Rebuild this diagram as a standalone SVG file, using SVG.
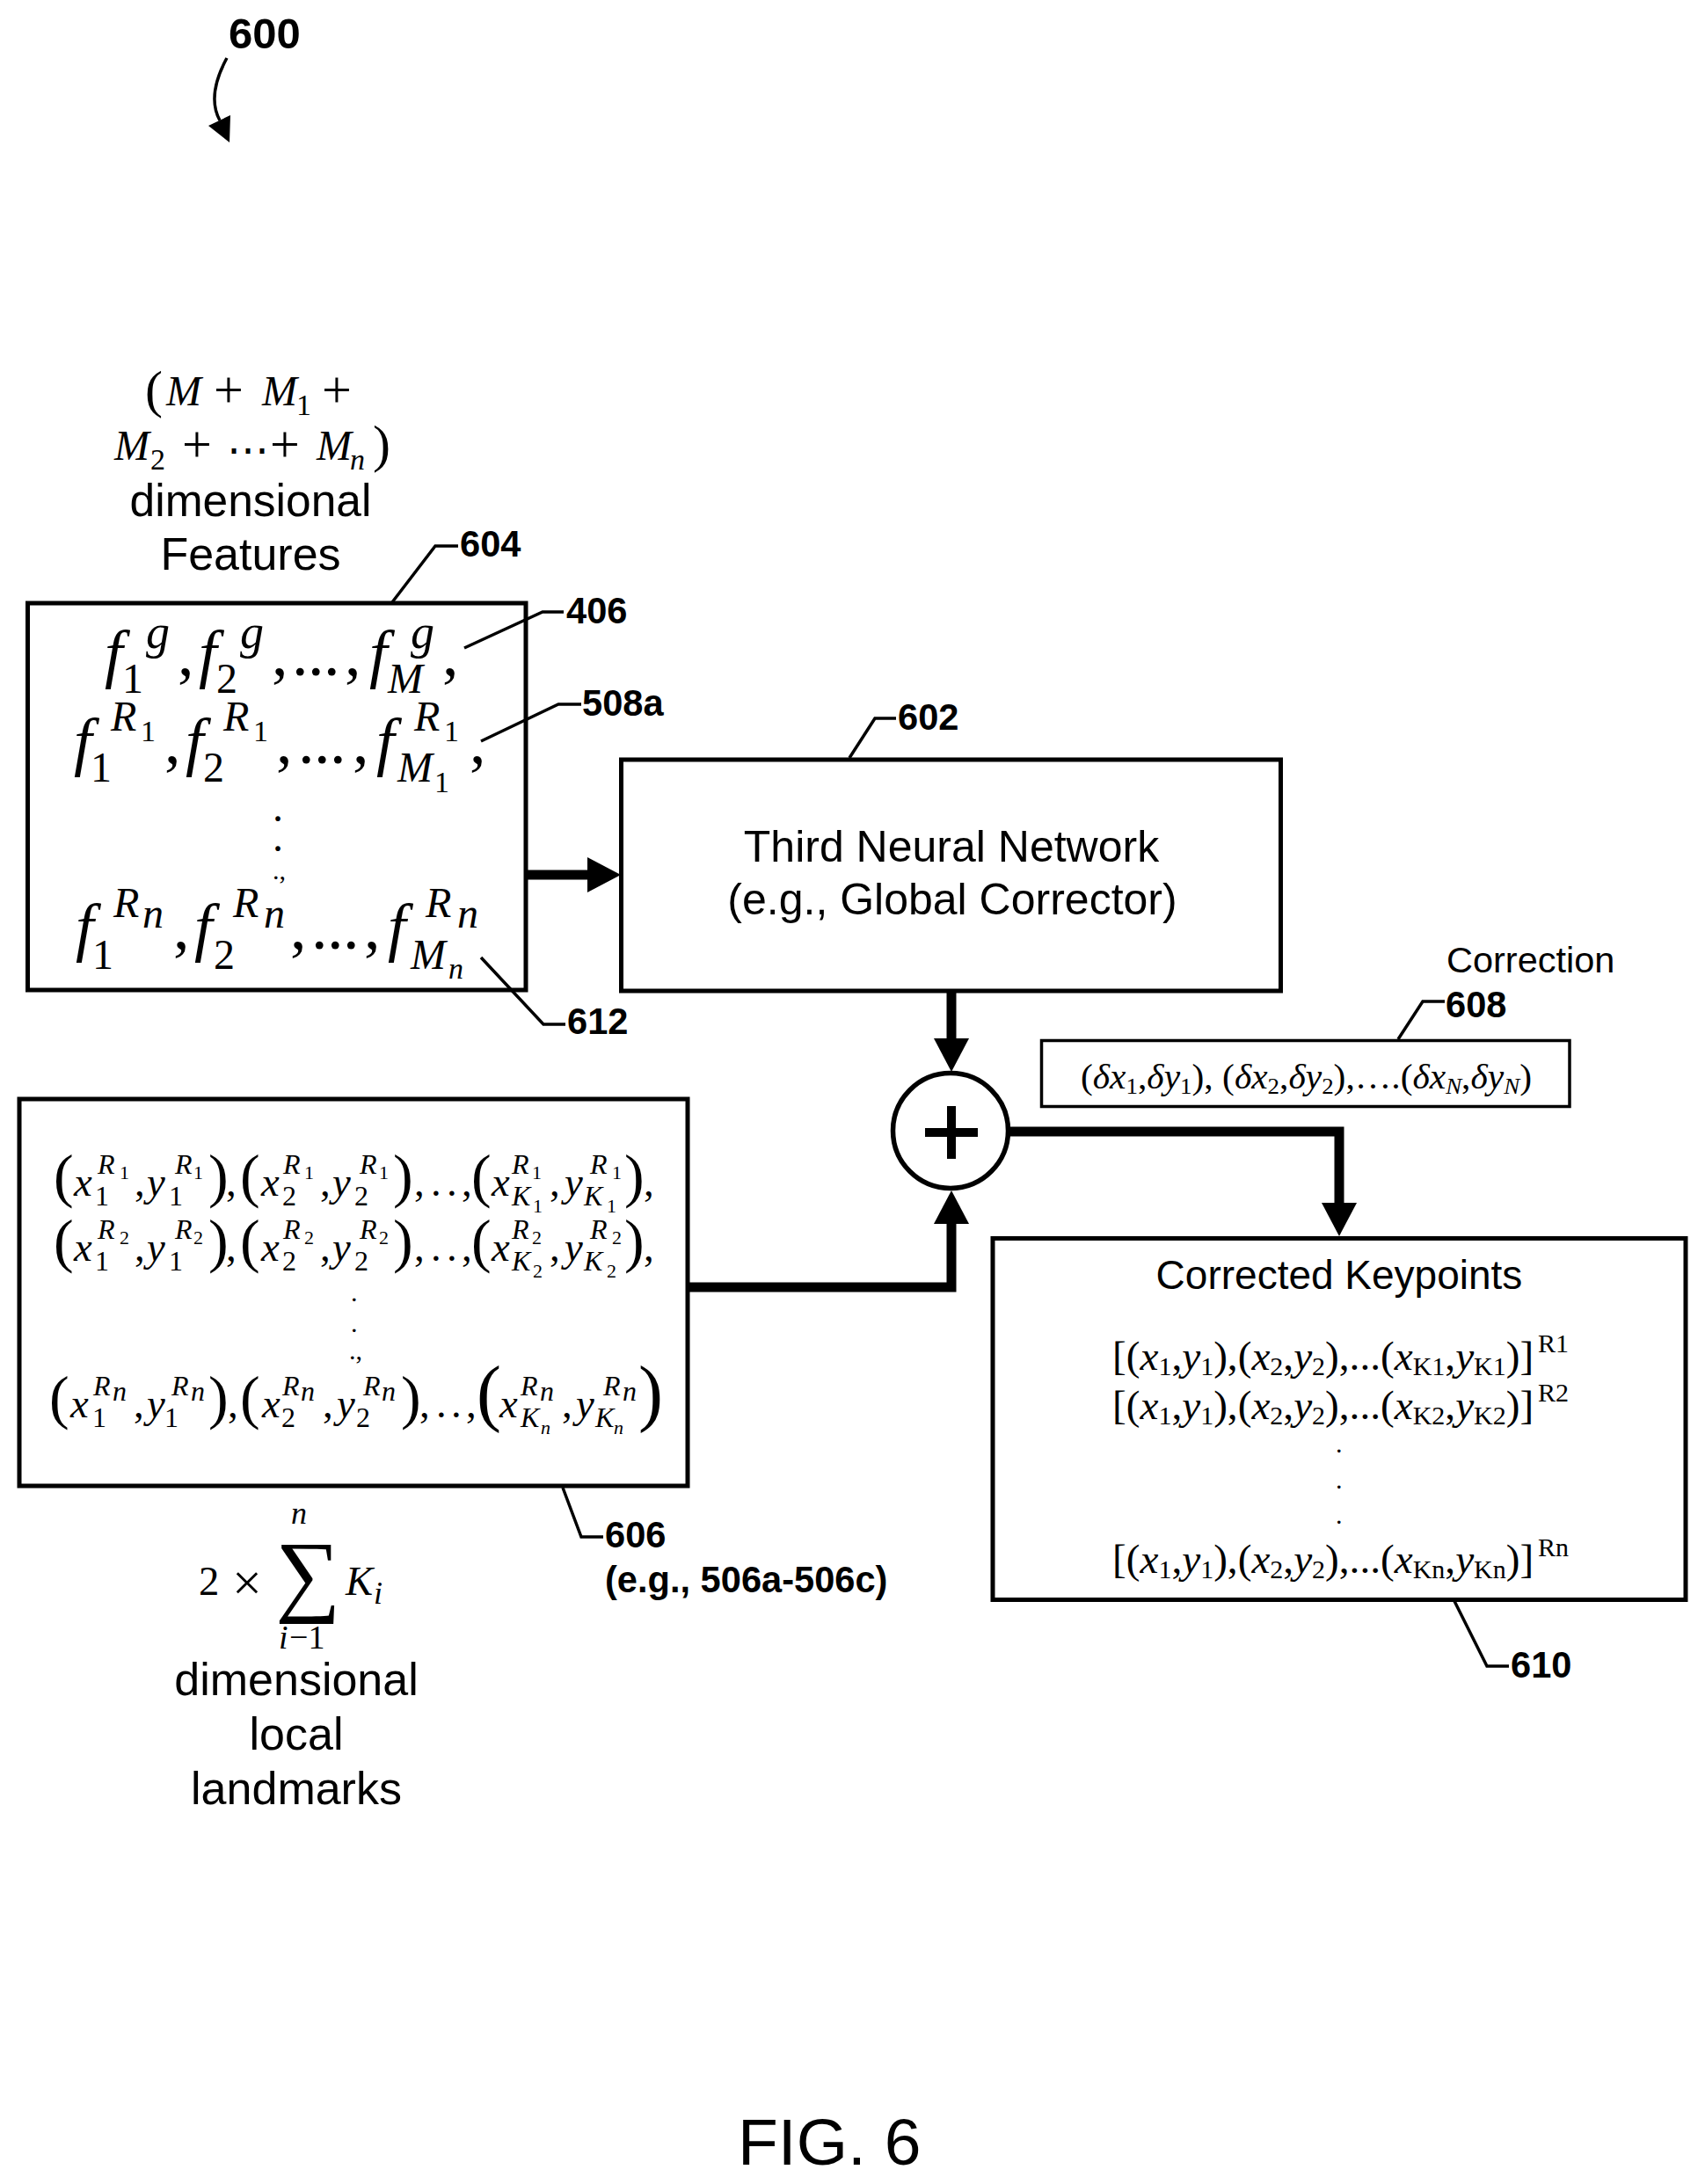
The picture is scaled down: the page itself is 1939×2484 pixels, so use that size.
<svg xmlns="http://www.w3.org/2000/svg" width="1939" height="2484" viewBox="0 0 1939 2484">
<defs>
<style>
text{fill:#000;white-space:pre}
.s{font-family:"Liberation Sans",Arial,sans-serif}
.b{font-family:"Liberation Sans",Arial,sans-serif;font-weight:bold;font-size:41.6px}
.m{font-family:"Liberation Serif","Times New Roman",serif;font-style:italic}
.u{font-style:normal}
.box{fill:#fff;stroke:#000;stroke-width:5}
.lead{fill:none;stroke:#000;stroke-width:3.5}
.thick{fill:none;stroke:#000;stroke-width:11;marker-end:url(#ah)}
.f74{font-size:74px}.f60{font-size:60px}.f54{font-size:54px}.f48{font-size:48px}.f34{font-size:34px}.f30{font-size:30px}
.f38{font-size:38px}.f36{font-size:36px}.f46{font-size:46px}.f47{font-size:46.7px}.f472{font-size:47.2px}.f32{font-size:32px}.f22{font-size:22px}.f68{font-size:68px}.f84{font-size:84px}
</style>
<marker id="ah" markerUnits="userSpaceOnUse" markerWidth="38" markerHeight="40" refX="0" refY="20" orient="auto" viewBox="0 0 38 40"><path d="M0 0L38 20L0 40Z" fill="#000"/></marker>
</defs>
<rect width="1939" height="2484" fill="#fff"/>

<g id="label-600"><text class="b" style="font-size:49px" x="260" y="55">600</text></g>

<g id="features-label">
<text class="m f48"><tspan class="u f60" x="165" y="463">(</tspan><tspan x="189" y="461">M</tspan><tspan class="u f60" x="243" y="463">+</tspan><tspan x="298" y="461">M</tspan><tspan class="u f34" x="337" y="472">1</tspan><tspan class="u f60" x="366" y="463">+</tspan></text>
<text class="m f48"><tspan x="130" y="523">M</tspan><tspan class="u f34" x="171" y="534">2</tspan><tspan class="u f60" x="207" y="525">+</tspan><tspan class="u" x="258" y="528">⋯</tspan><tspan class="u f60" x="307" y="525">+</tspan><tspan x="360" y="523">M</tspan><tspan class="f34" x="398" y="534">n</tspan><tspan class="u f60" x="424" y="525">)</tspan></text>
<text class="s" style="font-size:51.5px" text-anchor="middle" x="285" y="587">dimensional</text>
<text class="s" style="font-size:52px" text-anchor="middle" x="285" y="648">Features</text>
</g>

<g id="node-604">
<rect class="box" x="31.5" y="686" width="566.5" height="440"/>
<text class="m f74"><tspan x="119" y="768">f</tspan><tspan class="f54" x="166" y="737">g</tspan><tspan class="u f48" x="139" y="788">1</tspan><tspan class="u" x="202" y="768">,</tspan><tspan x="226" y="768">f</tspan><tspan class="f54" x="273" y="737">g</tspan><tspan class="u f48" x="246" y="788">2</tspan><tspan class="u" x="309" y="768">,</tspan><tspan class="u" x="332 350 368" y="768">...</tspan><tspan class="u" x="392" y="768">,</tspan><tspan x="420" y="768">f</tspan><tspan class="f54" x="467" y="737">g</tspan><tspan class="f48" x="441" y="788">M</tspan><tspan class="u" x="503" y="768">,</tspan></text>
<text class="m f74"><tspan x="84" y="868">f</tspan><tspan class="f48" x="126" y="831">R</tspan><tspan class="u f34" x="160" y="843">1</tspan><tspan class="u f48" x="103" y="889">1</tspan><tspan class="u" x="187" y="868">,</tspan><tspan x="211" y="868">f</tspan><tspan class="f48" x="254" y="831">R</tspan><tspan class="u f34" x="288" y="843">1</tspan><tspan class="u f48" x="231" y="889">2</tspan><tspan class="u" x="314" y="868">,</tspan><tspan class="u" x="339 357 375" y="868">...</tspan><tspan class="u" x="401" y="868">,</tspan><tspan x="428" y="868">f</tspan><tspan class="f48" x="471" y="831">R</tspan><tspan class="u f34" x="505" y="843">1</tspan><tspan class="f48" x="452" y="889">M</tspan><tspan class="u f34" x="494" y="901">1</tspan><tspan class="u" x="534" y="868">,</tspan></text>
<text class="m f48"><tspan class="u" x="310" y="934">.</tspan><tspan class="u" x="310" y="968">.</tspan><tspan class="u f30" x="310" y="1000">.,</tspan></text>
<text class="m f74"><tspan x="86" y="1079">f</tspan><tspan class="f48" x="129" y="1043">R</tspan><tspan class="f48" x="162" y="1055">n</tspan><tspan class="u f48" x="105" y="1102">1</tspan><tspan class="u" x="197" y="1079">,</tspan><tspan x="221" y="1079">f</tspan><tspan class="f48" x="265" y="1043">R</tspan><tspan class="f48" x="300" y="1055">n</tspan><tspan class="u f48" x="243" y="1102">2</tspan><tspan class="u" x="330" y="1079">,</tspan><tspan class="u" x="354 372 390" y="1079">...</tspan><tspan class="u" x="414" y="1079">,</tspan><tspan x="441" y="1079">f</tspan><tspan class="f48" x="484" y="1043">R</tspan><tspan class="f48" x="520" y="1055">n</tspan><tspan class="f48" x="467" y="1102">M</tspan><tspan class="f34" x="510" y="1113">n</tspan></text>
</g>

<g id="node-602">
<rect class="box" x="706.5" y="864" width="750" height="263"/>
<text class="s" style="font-size:50px" text-anchor="middle" x="1082" y="980">Third Neural Network</text>
<text class="s" style="font-size:50px" text-anchor="middle" x="1083" y="1040">(e.g., Global Corrector)</text>
</g>

<g id="node-606">
<rect class="box" x="22" y="1250" width="760" height="440"/>
<text class="m f47"><tspan class="u f68" x="61" y="1360">(</tspan><tspan x="84" y="1360">x</tspan><tspan class="f32" x="111" y="1335">R</tspan><tspan class="u f22" x="136" y="1341">1</tspan><tspan class="u f32" x="108" y="1371">1</tspan><tspan class="u" x="153" y="1360">,</tspan><tspan x="167" y="1360">y</tspan><tspan class="f32" x="199" y="1335">R</tspan><tspan class="u f22" x="220" y="1341">1</tspan><tspan class="u f32" x="192" y="1371">1</tspan><tspan class="u f68" x="237" y="1360">)</tspan><tspan class="u" x="257" y="1360">,</tspan><tspan class="u f68" x="273" y="1360">(</tspan><tspan x="297" y="1360">x</tspan><tspan class="f32" x="322" y="1335">R</tspan><tspan class="u f22" x="346" y="1341">1</tspan><tspan class="u f32" x="321" y="1371">2</tspan><tspan class="u" x="364" y="1360">,</tspan><tspan x="378" y="1360">y</tspan><tspan class="f32" x="409" y="1335">R</tspan><tspan class="u f22" x="431" y="1341">1</tspan><tspan class="u f32" x="403" y="1371">2</tspan><tspan class="u f68" x="447" y="1360">)</tspan><tspan class="u" x="471 490 508 525" y="1360">,..,</tspan><tspan class="u f68" x="536" y="1360">(</tspan><tspan x="559" y="1360">x</tspan><tspan class="f32" x="582" y="1335">R</tspan><tspan class="u f22" x="605" y="1341">1</tspan><tspan class="f32" x="582" y="1371">K</tspan><tspan class="u f22" x="606" y="1379">1</tspan><tspan class="u" x="625" y="1360">,</tspan><tspan x="642" y="1360">y</tspan><tspan class="f32" x="671" y="1335">R</tspan><tspan class="u f22" x="696" y="1341">1</tspan><tspan class="f32" x="664" y="1371">K</tspan><tspan class="u f22" x="690" y="1379">1</tspan><tspan class="u f68" x="710" y="1360">)</tspan><tspan class="u" x="732" y="1360">,</tspan></text>
<text class="m f47"><tspan class="u f68" x="61" y="1434">(</tspan><tspan x="84" y="1434">x</tspan><tspan class="f32" x="111" y="1409">R</tspan><tspan class="u f22" x="136" y="1415">2</tspan><tspan class="u f32" x="108" y="1445">1</tspan><tspan class="u" x="153" y="1434">,</tspan><tspan x="167" y="1434">y</tspan><tspan class="f32" x="199" y="1409">R</tspan><tspan class="u f22" x="220" y="1415">2</tspan><tspan class="u f32" x="192" y="1445">1</tspan><tspan class="u f68" x="237" y="1434">)</tspan><tspan class="u" x="257" y="1434">,</tspan><tspan class="u f68" x="273" y="1434">(</tspan><tspan x="297" y="1434">x</tspan><tspan class="f32" x="322" y="1409">R</tspan><tspan class="u f22" x="346" y="1415">2</tspan><tspan class="u f32" x="321" y="1445">2</tspan><tspan class="u" x="364" y="1434">,</tspan><tspan x="378" y="1434">y</tspan><tspan class="f32" x="409" y="1409">R</tspan><tspan class="u f22" x="431" y="1415">2</tspan><tspan class="u f32" x="403" y="1445">2</tspan><tspan class="u f68" x="447" y="1434">)</tspan><tspan class="u" x="471 490 508 525" y="1434">,..,</tspan><tspan class="u f68" x="536" y="1434">(</tspan><tspan x="559" y="1434">x</tspan><tspan class="f32" x="582" y="1409">R</tspan><tspan class="u f22" x="605" y="1415">2</tspan><tspan class="f32" x="582" y="1445">K</tspan><tspan class="u f22" x="606" y="1453">2</tspan><tspan class="u" x="625" y="1434">,</tspan><tspan x="642" y="1434">y</tspan><tspan class="f32" x="671" y="1409">R</tspan><tspan class="u f22" x="696" y="1415">2</tspan><tspan class="f32" x="664" y="1445">K</tspan><tspan class="u f22" x="690" y="1453">2</tspan><tspan class="u f68" x="710" y="1434">)</tspan><tspan class="u" x="732" y="1434">,</tspan></text>
<text class="m f46"><tspan class="u f30" x="399" y="1480">.</tspan><tspan class="u f30" x="399" y="1515">.</tspan><tspan class="u f30" x="397" y="1546">.,</tspan></text>
<text class="m f47"><tspan class="u f68" x="56" y="1612">(</tspan><tspan x="80" y="1612">x</tspan><tspan class="f32" x="106" y="1587">R</tspan><tspan class="f32" x="128" y="1593">n</tspan><tspan class="u f32" x="105" y="1623">1</tspan><tspan class="u" x="152" y="1612">,</tspan><tspan x="167" y="1612">y</tspan><tspan class="f32" x="195" y="1587">R</tspan><tspan class="f32" x="217" y="1593">n</tspan><tspan class="u f32" x="187" y="1623">1</tspan><tspan class="u f68" x="237" y="1612">)</tspan><tspan class="u" x="259" y="1612">,</tspan><tspan class="u f68" x="273" y="1612">(</tspan><tspan x="298" y="1612">x</tspan><tspan class="f32" x="321" y="1587">R</tspan><tspan class="f32" x="342" y="1593">n</tspan><tspan class="u f32" x="320" y="1623">2</tspan><tspan class="u" x="367" y="1612">,</tspan><tspan x="383" y="1612">y</tspan><tspan class="f32" x="413" y="1587">R</tspan><tspan class="f32" x="434" y="1593">n</tspan><tspan class="u f32" x="405" y="1623">2</tspan><tspan class="u f68" x="456" y="1612">)</tspan><tspan class="u" x="477 496 513 530" y="1612">,..,</tspan><tspan class="u f84" x="542" y="1612">(</tspan><tspan x="568" y="1612">x</tspan><tspan class="f32" x="592" y="1587">R</tspan><tspan class="f32" x="614" y="1593">n</tspan><tspan class="f32" x="592" y="1623">K</tspan><tspan class="f22" x="615" y="1631">n</tspan><tspan class="u" x="639" y="1612">,</tspan><tspan x="655" y="1612">y</tspan><tspan class="f32" x="686" y="1587">R</tspan><tspan class="f32" x="708" y="1593">n</tspan><tspan class="f32" x="677" y="1623">K</tspan><tspan class="f22" x="698" y="1631">n</tspan><tspan class="u f84" x="726" y="1612">)</tspan></text>
</g>

<g id="landmarks-label">
<text class="m f47"><tspan class="u" x="226" y="1814">2</tspan><tspan class="u f60" x="264" y="1820">×</tspan><tspan class="u" style="font-size:104px" x="313" y="1825">∑</tspan><tspan class="f36" x="331" y="1733">n</tspan><tspan x="393" y="1814">K</tspan><tspan class="f36" x="425" y="1824">i</tspan><tspan class="f38" x="317" y="1875">i</tspan><tspan class="u f38" x="329" y="1875">−1</tspan></text>
<text class="s" style="font-size:52px" text-anchor="middle" x="337" y="1928">dimensional</text>
<text class="s" style="font-size:52px" text-anchor="middle" x="337" y="1990">local</text>
<text class="s" style="font-size:52px" text-anchor="middle" x="337" y="2052">landmarks</text>
</g>

<g id="node-sum">
<circle cx="1081" cy="1286" r="65.5" fill="#fff" stroke="#000" stroke-width="5.5"/>
<path d="M1052 1288H1112M1082 1258V1318" fill="none" stroke="#000" stroke-width="10"/>
</g>

<g id="node-608">
<text class="s" style="font-size:41.5px" x="1645" y="1106">Correction</text>
<rect x="1184.5" y="1183.5" width="600.5" height="75" fill="#fff" stroke="#000" stroke-width="3.5"/>
<text class="m" style="font-size:40px" x="1229" y="1238" textLength="513" lengthAdjust="spacingAndGlyphs"><tspan class="u">(</tspan>δx<tspan class="u" dy="6" font-size="26">1</tspan><tspan class="u" dy="-6">,</tspan>δy<tspan class="u" dy="6" font-size="26">1</tspan><tspan class="u" dy="-6">), (</tspan>δx<tspan class="u" dy="6" font-size="26">2</tspan><tspan class="u" dy="-6">,</tspan>δy<tspan class="u" dy="6" font-size="26">2</tspan><tspan class="u" dy="-6">),….(</tspan>δx<tspan dy="6" font-size="26">N</tspan><tspan class="u" dy="-6">,</tspan>δy<tspan dy="6" font-size="26">N</tspan><tspan class="u" dy="-6">)</tspan></text>
</g>

<g id="node-610">
<rect class="box" x="1129" y="1408.5" width="788" height="411"/>
<text class="s" style="font-size:46px" text-anchor="middle" x="1523" y="1466">Corrected Keypoints</text>
<text class="m f472" x="1265" y="1558"><tspan class="u">[(</tspan>x<tspan class="u f30" dy="6">1</tspan><tspan class="u" dy="-6">,</tspan>y<tspan class="u f30" dy="6">1</tspan><tspan class="u" dy="-6">),(</tspan>x<tspan class="u f30" dy="6">2</tspan><tspan class="u" dy="-6">,</tspan>y<tspan class="u f30" dy="6">2</tspan><tspan class="u" dy="-6">),...(</tspan>x<tspan class="u f30" dy="6">K1</tspan><tspan class="u" dy="-6">,</tspan>y<tspan class="u f30" dy="6">K1</tspan><tspan class="u" dy="-6">)]</tspan><tspan class="u f30" x="1749" y="1538">R1</tspan></text>
<text class="m f472" x="1265" y="1614"><tspan class="u">[(</tspan>x<tspan class="u f30" dy="6">1</tspan><tspan class="u" dy="-6">,</tspan>y<tspan class="u f30" dy="6">1</tspan><tspan class="u" dy="-6">),(</tspan>x<tspan class="u f30" dy="6">2</tspan><tspan class="u" dy="-6">,</tspan>y<tspan class="u f30" dy="6">2</tspan><tspan class="u" dy="-6">),...(</tspan>x<tspan class="u f30" dy="6">K2</tspan><tspan class="u" dy="-6">,</tspan>y<tspan class="u f30" dy="6">K2</tspan><tspan class="u" dy="-6">)]</tspan><tspan class="u f30" x="1749" y="1594">R2</tspan></text>
<text class="m f46"><tspan class="u f30" x="1519" y="1652">.</tspan><tspan class="u f30" x="1519" y="1693">.</tspan><tspan class="u f30" x="1519" y="1733">.</tspan></text>
<text class="m f472" x="1265" y="1789"><tspan class="u">[(</tspan>x<tspan class="u f30" dy="6">1</tspan><tspan class="u" dy="-6">,</tspan>y<tspan class="u f30" dy="6">1</tspan><tspan class="u" dy="-6">),(</tspan>x<tspan class="u f30" dy="6">2</tspan><tspan class="u" dy="-6">,</tspan>y<tspan class="u f30" dy="6">2</tspan><tspan class="u" dy="-6">),...(</tspan>x<tspan class="u f30" dy="6">Kn</tspan><tspan class="u" dy="-6">,</tspan>y<tspan class="u f30" dy="6">Kn</tspan><tspan class="u" dy="-6">)]</tspan><tspan class="u f30" x="1749" y="1770">Rn</tspan></text>
</g>

<g id="connectors">
<path class="thick" d="M598 995H668"/>
<path class="thick" d="M1082 1127V1181"/>
<path class="thick" d="M1146 1287H1523V1368"/>
<path class="thick" d="M782 1464H1082V1392"/>
<path class="lead" d="M258 66C245 90 238 115 250 137"/>
<polygon points="262,131 237,143 261,162" fill="#000"/>
<path class="lead" d="M446 685L495 621H521"/>
<path class="lead" d="M528 737L617 696H641"/>
<path class="lead" d="M547 843L635 801H661"/>
<path class="lead" d="M547 1089L618 1165H643"/>
<path class="lead" d="M966 862L995 817H1019"/>
<path class="lead" d="M1590 1182L1618 1139H1643"/>
<path class="lead" d="M640 1692L661 1748H686"/>
<path class="lead" d="M1654 1821L1691 1895H1716"/>
</g>

<g id="ref-labels">
<text class="b" x="523" y="633">604</text>
<text class="b" x="644" y="709">406</text>
<text class="b" x="662" y="814">508a</text>
<text class="b" x="645" y="1176">612</text>
<text class="b" x="1021" y="830">602</text>
<text class="b" x="1644" y="1157">608</text>
<text class="b" x="688" y="1760">606</text>
<text class="b" x="688" y="1811">(e.g., 506a-506c)</text>
<text class="b" x="1718" y="1908">610</text>
</g>

<g id="caption"><text class="s" style="font-size:75px" x="839" y="2462">FIG. 6</text></g>
</svg>
